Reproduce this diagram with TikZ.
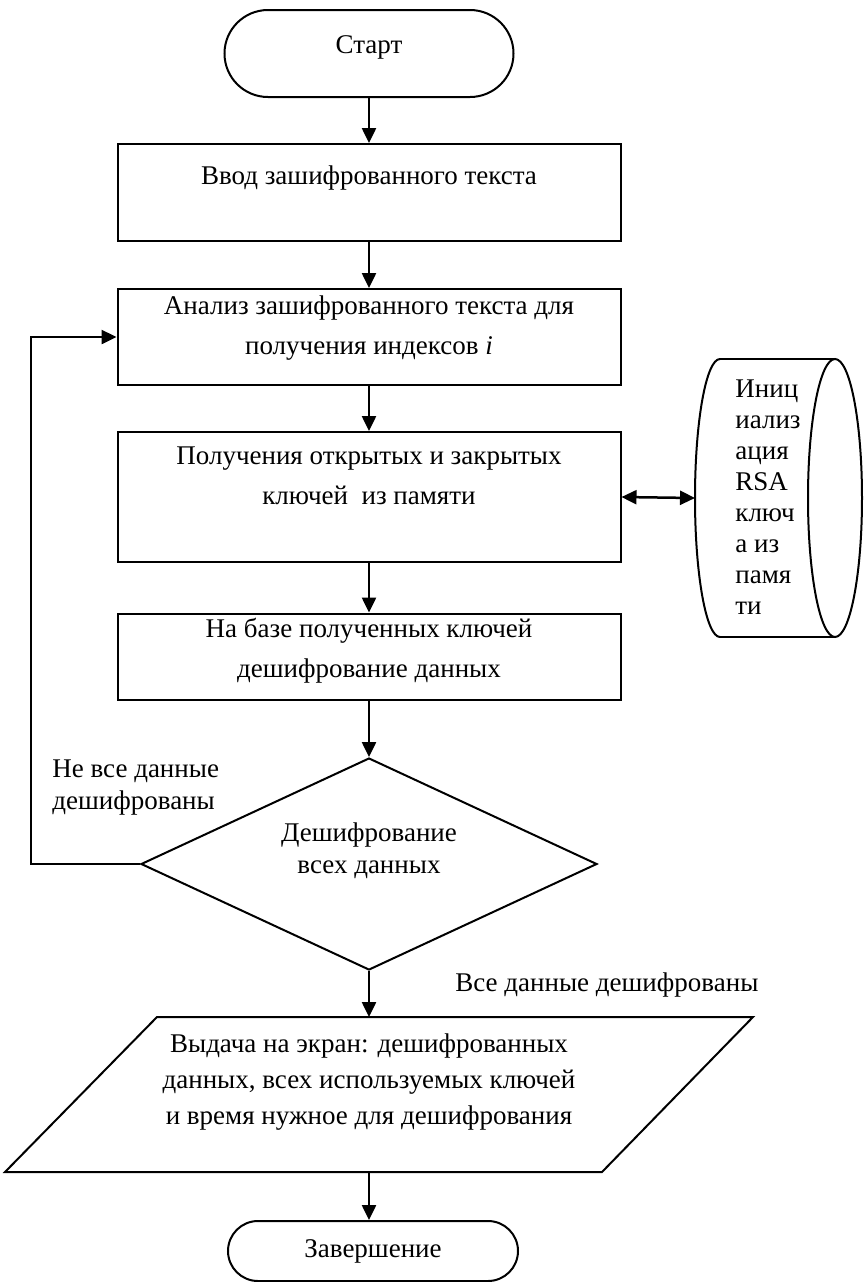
\documentclass[tikz,border=0pt]{standalone}
\usepackage{fontspec}
\setmainfont{Liberation Serif}
\usetikzlibrary{shapes.geometric,shapes.misc,arrows.meta}

\begin{document}
\begin{tikzpicture}[
        x=0.5pt, y=-0.5pt,
        font=\fontsize{13.5}{15.5}\selectfont,
        term/.style={
            rounded rectangle,
            draw,
            line width=1pt,
            minimum width=144.5pt,
            inner sep=0pt
        },
        block/.style={
            rectangle,
            draw,
            line width=1pt,
            minimum width=251.5pt,
            inner sep=0pt
        },
        txt/.style={align=center, inner sep=0pt, font=\fontsize{13.5}{20}\selectfont},
        arr/.style={line width=1.25pt, -{Triangle[length=7.5pt,width=7pt]}}
    ]
        \useasboundingbox (0,0) rectangle (864,1282);

        % Blocchi dello schema
        \node[term, minimum height=43.5pt, text height=9pt, text depth=9pt] (start) at (369,53.5) {Старт};
        \node[block, minimum height=48.5pt] (box1) at (369,192.5) {};
        \node[block, minimum height=48pt] (box2) at (369,337) {};
        \node[block, minimum height=65pt] (box3) at (369,497) {};
        \node[block, minimum height=43pt] (box4) at (369,656.5) {};
        \node[diamond, draw, line width=1pt, minimum width=228pt, minimum height=106pt, inner sep=0pt] (dec) at (369,864) {};
        \draw[line width=1pt] (157,1017) -- (753,1017) -- (602,1172) -- (5,1172) -- cycle;
        \coordinate (outtop) at (369,1017);
        \coordinate (outbot) at (369,1172);
        \node[term, minimum width=145pt, minimum height=30pt] (end) at (373,1251) {Завершение};

        % Memoria (cilindro)
        \draw[line width=1pt] (720,359) -- (835,359) (720,637) -- (835,637);
        \draw[line width=1pt] (720,359) arc[start angle=90, end angle=270, x radius=12.5pt, y radius=69.5pt];
        \draw[line width=1pt] (835,498) ellipse[x radius=13.5pt, y radius=69.5pt];
        \coordinate (memw) at (695,498);

        % Testi
        \node[txt] (t1) at (369,178) {Ввод зашифрованного текста};
        \node[txt] (t2) at (369,328) {Анализ зашифрованного текста для\\получения индексов \textit{i}};
        \node[txt] (t3) at (369,476) {Получения открытых и закрытых\\ключей~ из памяти};
        \node[txt] (t4) at (369,651) {На базе полученных ключей\\дешифрование данных};
        \node[txt, font=\fontsize{13.5}{16}\selectfont] (t5) at (369,851) {Дешифрование\\всех данных};
        \node[txt, font=\fontsize{13.5}{18}\selectfont] (t6) at (369,1082) {Выдача на экран: дешифрованных\\данных, всех используемых ключей\\и время нужное для дешифрования};
        \node[align=left, anchor=north west, inner sep=0pt] (memtxt) at (735,379) {Иниц\\иализ\\ация\\RSA\\ключ\\а из\\памя\\ти};
        \node[align=left, anchor=west, inner sep=0pt, font=\fontsize{13.5}{16}\selectfont] (no) at (52,788) {Не все данные\\дешифрованы};
        \node[anchor=west, inner sep=0pt] (yes) at (455,985) {Все данные дешифрованы};

        % Collegamenti
        \foreach \a/\b in {start/box1, box1/box2, box2/box3, box3/box4, box4/dec} {
            \draw[arr] (\a.south) -- (\b.north);
        }
        \draw[arr] (dec.south) -- (outtop);
        \draw[arr] (outbot) -- (outbot |- end.north);
        \draw[arr] (dec.west) -- ++(-109,0) |- (box2.west);
        \draw[line width=1.25pt, {Triangle[length=7.5pt,width=7pt]}-{Triangle[length=7.5pt,width=7pt]}] (box3.east) -- (memw);
    \end{tikzpicture}
\end{document}
